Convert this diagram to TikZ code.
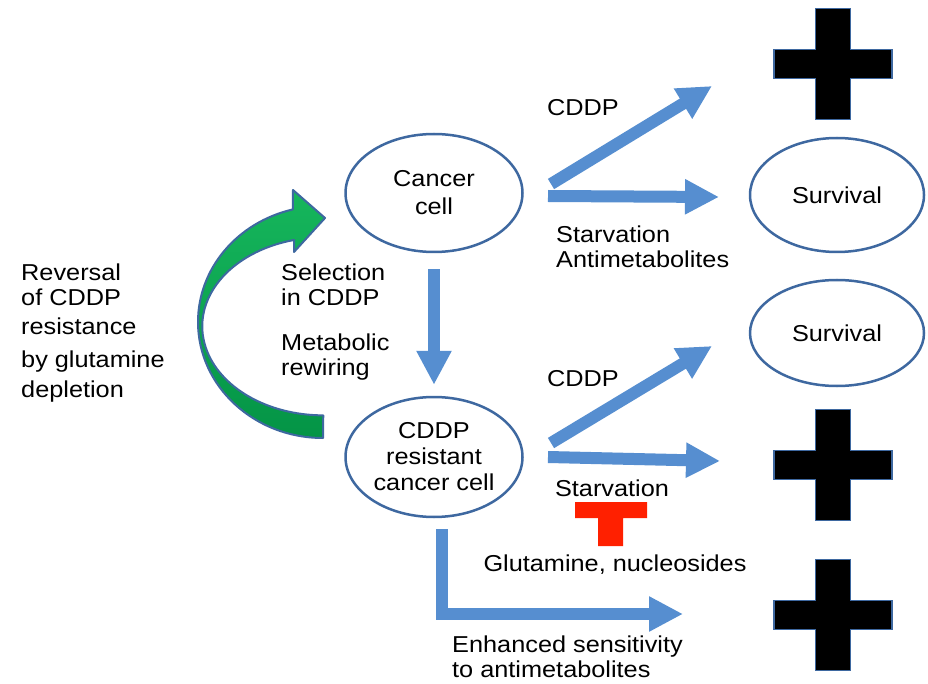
\documentclass[tikz,border=0pt]{standalone}
\usepackage{fontspec}
\setmainfont{Liberation Sans}[FakeStretch=1.1]
\usetikzlibrary{shapes.geometric,arrows.meta}
\definecolor{arrblue}{RGB}{86,142,208}
\definecolor{edgeblue}{RGB}{62,104,160}
\definecolor{tred}{RGB}{255,32,0}
\definecolor{glight}{RGB}{22,182,92}
\definecolor{gdark}{RGB}{4,148,70}
\tikzset{
  cell/.style={ellipse, draw=edgeblue, line width=2.5pt, fill=white, align=center, inner sep=0pt,
    font=\fontsize{23}{27}\selectfont},
  lbl/.style={inner sep=0pt, font=\fontsize{23}{24.5}\selectfont},
  barrow/.style={draw=arrblue, line width=12pt, -{Triangle[width=33pt,length=34pt]}},
  deathcross/.pic={
    \filldraw[fill=black, draw=edgeblue, line width=1.5pt]
      (-17.5,-55.5) -- (17.5,-55.5) -- (17.5,-14.5) -- (59,-14.5) -- (59,14.5) -- (17.5,14.5)
      -- (17.5,55.5) -- (-17.5,55.5) -- (-17.5,14.5) -- (-59,14.5) -- (-59,-14.5) -- (-17.5,-14.5) -- cycle;
  }
}
\begin{document}
\begin{tikzpicture}[x=1pt,y=-1pt]
\useasboundingbox[fill=white] (0,0) rectangle (928,684);

% ellipses
\node[cell, minimum width=177pt, minimum height=118pt, font=\fontsize{23}{28}\selectfont] (cc) at (434,193) {Cancer\\cell};
\node[cell, minimum width=177pt, minimum height=120pt, font=\fontsize{23}{26}\selectfont] (rc) at (434,457) {CDDP\\resistant\\cancer cell};
\node[cell, minimum width=174pt, minimum height=114pt] (s1) at (837,195) {Survival};
\node[cell, minimum width=174pt, minimum height=106pt] (s2) at (837,333) {Survival};

% crosses
\pic at (833,64) {deathcross};
\pic at (833,465) {deathcross};
\pic at (833,615) {deathcross};

% red T (inhibition)
\fill[tred] (575,502) -- (647,502) -- (647,518) -- (623,518) -- (623,546) -- (598,546) -- (598,518) -- (575,518) -- cycle;

% arrow end coordinates
\coordinate (a1s) at (551,184);
\coordinate (a1e) at (712,86);
\coordinate (a2s) at (548,196);
\coordinate (a2e) at (719,197);
\coordinate (a3s) at (551,443);
\coordinate (a3e) at (712,346);
\coordinate (a4s) at (548,457);
\coordinate (a4e) at (720,461);
\coordinate (a5e) at (683,614);

\draw[barrow] (a1s) -- (a1e);
\draw[barrow] (a2s) -- (a2e);
\draw[barrow] ([yshift=-16pt]cc.south) -- ([yshift=11pt]rc.north);
\draw[barrow] (a3s) -- (a3e);
\draw[barrow] (a4s) -- (a4e);
\draw[barrow] ([xshift=8pt,yshift=-11pt]rc.south) |- (a5e);

% green curved arrow
\path[draw=edgeblue, line width=2pt, line join=round, top color=glight, bottom color=gdark]
  (323,438) arc[start angle=90, end angle=256, x radius=125, y radius=116]
  -- (293,190) -- (325,218) -- (294,252) -- (294,240)
  arc[start angle=256, end angle=90, x radius=121, y radius=89] -- cycle;

% labels
\node[lbl, anchor=north west, align=left, font=\fontsize{23}{24.5}\selectfont] (rev) at (21,264) {Reversal\\of CDDP\\[4.5pt]resistance\\[8.5pt]by glutamine\\[6pt]depletion};
\node[lbl, anchor=north west, align=left] (sel) at (281,264) {Selection\\in CDDP};
\node[lbl, anchor=north west, align=left] (met) at (281,334) {Metabolic\\rewiring};
\node[lbl, anchor=base] (cddp1) at (583,116) {CDDP};
\node[lbl, anchor=north west, align=left] (starv1) at (556,226) {Starvation\\Antimetabolites};
\node[lbl, anchor=base] (cddp2) at (583,386) {CDDP};
\node[lbl, anchor=base] (starv2) at (612,496) {Starvation};
\node[lbl, anchor=base] (glut) at (615,571) {Glutamine, nucleosides};
\node[lbl, anchor=north west, align=left] (enh) at (452,636) {Enhanced sensitivity\\to antimetabolites};
\end{tikzpicture}
\end{document}
